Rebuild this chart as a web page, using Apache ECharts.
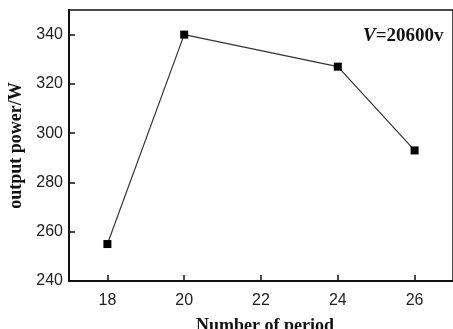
<!DOCTYPE html>
<html>
<head>
<meta charset="utf-8">
<script src="https://cdn.jsdelivr.net/npm/echarts@6/dist/echarts.min.js"></script>
<style>html,body{margin:0;padding:0;background:#fff}#c{width:453px;height:329px}</style>
</head>
<body>
<div id="c"></div>
<script>
var periods = [18, 20, 24, 26];
var powers = [255, 340, 327, 293];
var xTicks = [18, 20, 22, 24, 26];
var yTicks = [240, 260, 280, 300, 320, 340];
var xTitle = 'Number of period';
var yTitle = 'output power/W';

var chart = echarts.init(document.getElementById('c'), null, {renderer: 'canvas'});
var labelFont = {color: '#222', fontFamily: 'Liberation Sans, Arial, sans-serif', fontSize: 16};
chart.setOption({
  animation: false,
  backgroundColor: '#fff',
  title: {
    text: '{i|V}{n|=20600v}',
    left: 358, top: 22,
    textStyle: {
      rich: {
        i: {fontFamily: 'Liberation Serif, Times New Roman, serif', fontStyle: 'italic', fontWeight: 'bold', fontSize: 19, color: '#111'},
        n: {fontFamily: 'Liberation Serif, Times New Roman, serif', fontWeight: 'bold', fontSize: 19, color: '#111'}
      }
    }
  },
  grid: {left: 69, right: 0, top: 10, bottom: 48, outerBoundsMode: 'none', containLabel: false, show: true, borderColor: '#111', borderWidth: 1.5},
  xAxis: {
    type: 'value', min: 17, max: 27,
    name: xTitle, nameLocation: 'middle', nameGap: 36,
    nameTextStyle: {fontFamily: 'Liberation Serif, Times New Roman, serif', fontWeight: 'bold', fontSize: 18, color: '#111', verticalAlign: 'top', padding: [0, 0, 0, 8]},
    axisLine: {show: true, lineStyle: {color: '#111', width: 2}},
    axisTick: {show: true, inside: true, length: 6, customValues: xTicks, lineStyle: {color: '#111', width: 1.5}},
    axisLabel: Object.assign({margin: 12, customValues: xTicks}, labelFont),
    splitLine: {show: false}
  },
  yAxis: {
    type: 'value', min: 240, max: 350,
    name: yTitle, nameLocation: 'middle', nameGap: 43,
    nameTextStyle: {fontFamily: 'Liberation Serif, Times New Roman, serif', fontWeight: 'bold', fontSize: 18, color: '#111'},
    axisLine: {show: true, lineStyle: {color: '#111', width: 2}},
    axisTick: {show: true, inside: true, length: 6, customValues: yTicks, lineStyle: {color: '#111', width: 1.5}},
    axisLabel: Object.assign({margin: 6, customValues: yTicks}, labelFont),
    splitLine: {show: false}
  },
  series: [{
    type: 'line',
    data: periods.map(function (p, i) { return [p, powers[i]]; }),
    symbol: 'rect', symbolSize: 8,
    itemStyle: {color: '#000'},
    lineStyle: {color: '#333', width: 1.2}
  }]
});
</script>
</body>
</html>
